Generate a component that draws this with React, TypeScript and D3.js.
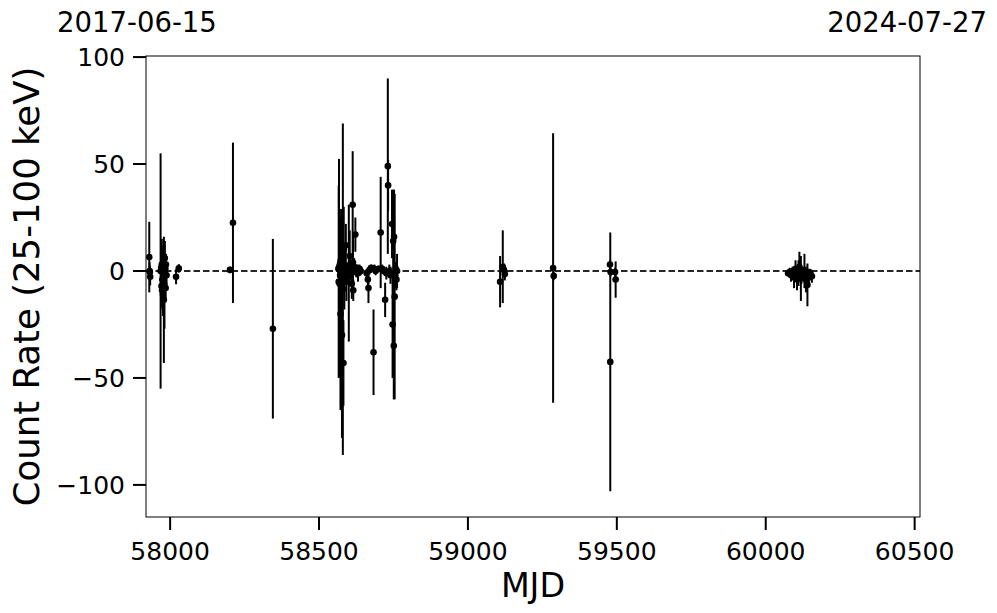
import React from "react";
import * as d3 from "d3";

// MJD of each measurement
const mjd = [
  // 2017 cluster
  57930, 57931, 57932, 57933, 57968, 57970, 57971, 57972, 57973, 57974, 57975, 57976, 57977,
  57978, 57979, 57980, 57981, 57982, 57983, 57984, 57985, 57986, 57988, 58020, 58029,
  // 2018
  58201, 58211, 58345,
  // 2019 cluster
  58565, 58566, 58567, 58568, 58569, 58570, 58571, 58572, 58573, 58574, 58575, 58576, 58577,
  58578, 58580, 58582, 58583, 58585, 58587, 58590, 58592, 58595, 58600, 58603, 58606, 58610,
  58613, 58614, 58615, 58618, 58622, 58625, 58631, 58636, 58640, 58660, 58664, 58666, 58670,
  58675, 58683, 58686, 58690, 58700, 58707, 58712, 58716, 58722, 58726, 58731, 58732, 58736,
  58740, 58745, 58747, 58749, 58751, 58752, 58754, 58756, 58758, 58760, 58762,
  // 2020
  59108, 59117, 59121, 59124,
  // 2021
  59286, 59288, 59477, 59478, 59479, 59494, 59496,
  // 2023 cluster
  60075, 60080, 60085, 60090, 60095, 60100, 60105, 60110, 60113, 60118, 60120, 60125, 60130,
  60135, 60140, 60145, 60150, 60155,
];

// Count rate (25-100 keV)
const rate = [
  6.5, 0, -0.5, -2.7, 0, 1.5, -7, 3, -9, -4, 0.5, -11, 5,
  -2, -13.5, 2, -6.5, 6, -1, 1, -8, 3, -2, -2.7, 1.2,
  0.5, 22.5, -27,
  1, -5, 1.4, 2, -6, 3, -2, -20, 5, -1, 8, -4, -30,
  1, -8.5, -43, 10, -3, 2, 12, -5, 0, -1, 7, 1, -6,
  31, 4, -9, 2, 17, 0, -1, 1, 0, -1, -4, -8, 0.5,
  1.5, -38, 1, 0, 1, 18, 1, 0, -13.5, -1, 49, 40, 0,
  -2, 22, -25, 14, -35, 16, -12, -2, 1, -4, 0,
  -5, 2, 0.5, -1.4,
  1.4, -2.3, 3, -42.5, -0.5, -0.5, -4,
  -1, -0.5, -2, 0, -3, 1, -4, -1, 2, -3.5, -2, -1, 0,
  -4, -6.5, -3, -1, -2.5,
];

// 1-sigma error
const err = [
  16.5, 4, 3, 4, 55, 8, 10, 12, 8, 14, 6, 10, 7,
  9, 29.5, 10, 20.5, 8, 5, 4, 6, 5, 4, 3.5, 2,
  1.5, 37.5, 42,
  4, 45, 51, 6, 10, 18, 12, 45, 8, 30, 12, 6, 48,
  5, 77.5, 20, 20, 15, 6, 10, 9, 4, 32, 12, 5, 7,
  25, 12, 5, 4, 8, 3, 4, 2, 2, 2, 3, 7, 2,
  1.5, 20, 2, 2, 1.5, 26, 2, 1.5, 8, 3, 41, 12, 3,
  4, 16, 25, 24, 25, 22, 48, 6, 3, 5, 8,
  12, 17, 3, 3,
  63, 2, 2, 60.5, 2, 2, 8.5,
  1.5, 2, 3, 2, 5, 4, 5, 6, 7, 10.5, 4, 3, 8,
  6, 10, 4, 2, 3,
];

const xTicks = [58000, 58500, 59000, 59500, 60000, 60500];
const yTicks = [100, 50, 0, -50, -100];
const startDate = "2017-06-15";
const endDate = "2024-07-27";

const W = 997;
const H = 613;
const M = { left: 146, right: 920, top: 56, bottom: 517 };
const FONT = "'DejaVu Sans', sans-serif";

export default function App() {
  const x = d3.scaleLinear().domain([57919, 60518]).range([M.left, M.right]);
  const y = d3.scaleLinear().domain([-115, 100.5]).range([M.bottom, M.top]);
  const fmt = (v: number) => (v < 0 ? "\u2212" + Math.abs(v) : String(v));

  return (
    <svg
      width={W}
      height={H}
      style={{ position: "absolute", left: 0, top: 0, background: "#fff" }}
      fontFamily={FONT}
    >
      <rect x={0} y={0} width={W} height={H} fill="#fff" />
      {/* zero line */}
      <line
        x1={M.left}
        x2={M.right}
        y1={y(0)}
        y2={y(0)}
        stroke="#000"
        strokeOpacity={0.85}
        strokeWidth={1.8}
        strokeDasharray="6.5,3"
      />
      {/* error bars */}
      {mjd.map((m, i) => (
        <line
          key={"e" + i}
          x1={x(m)}
          x2={x(m)}
          y1={y(rate[i] + err[i])}
          y2={y(rate[i] - err[i])}
          stroke="#000"
          strokeWidth={2}
        />
      ))}
      {mjd.map((m, i) => (
        <circle key={"p" + i} cx={x(m)} cy={y(rate[i])} r={3.3} fill="#000" />
      ))}
      {/* frame */}
      <rect
        x={M.left}
        y={M.top}
        width={M.right - M.left}
        height={M.bottom - M.top}
        fill="none"
        stroke="#000"
        strokeWidth={1}
      />
      {/* x ticks */}
      {xTicks.map((t) => (
        <g key={"xt" + t}>
          <line x1={x(t)} x2={x(t)} y1={M.bottom} y2={M.bottom + 13} stroke="#000" strokeWidth={2} />
          <text x={x(t)} y={M.bottom + 43} fontSize={25} textAnchor="middle">
            {fmt(t)}
          </text>
        </g>
      ))}
      {/* y ticks */}
      {yTicks.map((t) => (
        <g key={"yt" + t}>
          <line x1={M.left - 13} x2={M.left} y1={y(t)} y2={y(t)} stroke="#000" strokeWidth={2} />
          <text x={M.left - 21} y={y(t) + 9} fontSize={25} textAnchor="end">
            {fmt(t)}
          </text>
        </g>
      ))}
      <text x={(M.left + M.right) / 2} y={597} fontSize={33.3} textAnchor="middle">
        MJD
      </text>
      <text
        transform={`translate(39, ${(M.top + M.bottom) / 2}) rotate(-90)`}
        fontSize={35.5}
        textAnchor="middle"
      >
        Count Rate (25-100 keV)
      </text>
      <text x={57} y={32} fontSize={27.5} textAnchor="start">
        {startDate}
      </text>
      <text x={987} y={32} fontSize={27.5} textAnchor="end">
        {endDate}
      </text>
    </svg>
  );
}
